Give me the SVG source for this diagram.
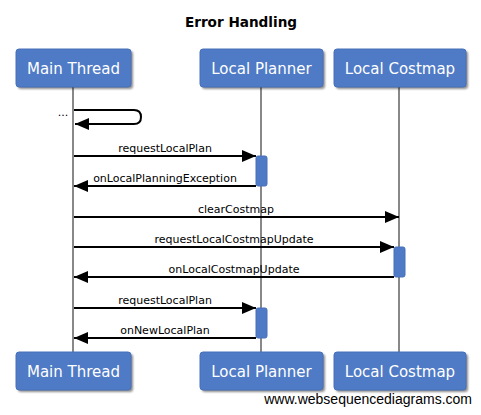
<svg xmlns="http://www.w3.org/2000/svg" width="481" height="415" viewBox="0 0 481 415">
<style>
.box{fill:#4F7AC5;stroke:#4670B8;stroke-width:1}
.shadow{fill:#000;opacity:0.45;filter:url(#blur)}
.plabel{font-family:"DejaVu Sans",Verdana,sans-serif;font-size:15px;fill:#fff;text-anchor:middle}
.life{stroke:#888;stroke-width:2}
.msg{stroke:#000;stroke-width:2;fill:none}
.mlabel{font-family:"DejaVu Sans",Verdana,sans-serif;font-size:11px;fill:#000;text-anchor:middle}
.act{fill:#4F7AC5;stroke:#4670B8;stroke-width:1}
</style>
<defs>
<filter id="blur" x="-20%" y="-20%" width="140%" height="140%"><feGaussianBlur stdDeviation="1.2"/></filter>
<marker id="ah" viewBox="0 0 14 12" refX="14" refY="6" markerWidth="14" markerHeight="12" markerUnits="userSpaceOnUse" orient="auto"><path d="M0,0 L14,6 L0,12 Z" fill="#000"/></marker>
</defs>
<rect width="481" height="415" fill="#fff"/>
<text x="241" y="27" font-family="DejaVu Sans,Verdana,sans-serif" font-size="13.6" font-weight="bold" text-anchor="middle" fill="#000">Error Handling</text>
<g id="lifelines">
<line class="life" x1="73" y1="87" x2="73" y2="352"/>
<line class="life" x1="261" y1="87" x2="261" y2="352"/>
<line class="life" x1="399" y1="87" x2="399" y2="352"/>
</g>
<g id="main-thread">
<rect class="shadow" x="18" y="51" width="115" height="38" rx="3"/>
<rect class="box" x="16" y="49" width="115" height="38" rx="3"/>
<text class="plabel" x="73.5" y="74">Main Thread</text>
<rect class="shadow" x="18" y="354" width="115" height="38" rx="3"/>
<rect class="box" x="16" y="352" width="115" height="38" rx="3"/>
<text class="plabel" x="73.5" y="377">Main Thread</text>
</g>
<g id="local-planner">
<rect class="shadow" x="202" y="51" width="123" height="38" rx="3"/>
<rect class="box" x="200" y="49" width="123" height="38" rx="3"/>
<text class="plabel" x="261.5" y="74">Local Planner</text>
<rect class="shadow" x="202" y="354" width="123" height="38" rx="3"/>
<rect class="box" x="200" y="352" width="123" height="38" rx="3"/>
<text class="plabel" x="261.5" y="377">Local Planner</text>
</g>
<g id="local-costmap">
<rect class="shadow" x="336" y="51" width="132" height="38" rx="3"/>
<rect class="box" x="334" y="49" width="132" height="38" rx="3"/>
<text class="plabel" x="400" y="74">Local Costmap</text>
<rect class="shadow" x="336" y="354" width="132" height="38" rx="3"/>
<rect class="box" x="334" y="352" width="132" height="38" rx="3"/>
<text class="plabel" x="400" y="377">Local Costmap</text>
</g>
<g id="activations">
<rect class="act" x="256" y="156" width="11" height="30" rx="2"/>
<rect class="act" x="394" y="247" width="11" height="30" rx="2"/>
<rect class="act" x="256" y="308" width="11" height="30" rx="2"/>
</g>
<g id="connectors">
<path class="msg" d="M74,110 H134 Q141,110 141,117 Q141,124 134,124 H75" marker-end="url(#ah)"/>
<text class="mlabel" x="63" y="116">...</text>
<line class="msg" x1="74" y1="156" x2="256" y2="156" marker-end="url(#ah)"/>
<text class="mlabel" x="165" y="152">requestLocalPlan</text>
<line class="msg" x1="256" y1="186" x2="74" y2="186" marker-end="url(#ah)"/>
<text class="mlabel" x="165" y="182">onLocalPlanningException</text>
<line class="msg" x1="74" y1="217" x2="399" y2="217" marker-end="url(#ah)"/>
<text class="mlabel" x="236" y="213">clearCostmap</text>
<line class="msg" x1="74" y1="247" x2="394" y2="247" marker-end="url(#ah)"/>
<text class="mlabel" x="234" y="243">requestLocalCostmapUpdate</text>
<line class="msg" x1="394" y1="277" x2="74" y2="277" marker-end="url(#ah)"/>
<text class="mlabel" x="234" y="273">onLocalCostmapUpdate</text>
<line class="msg" x1="74" y1="308" x2="256" y2="308" marker-end="url(#ah)"/>
<text class="mlabel" x="165" y="304">requestLocalPlan</text>
<line class="msg" x1="256" y1="338" x2="74" y2="338" marker-end="url(#ah)"/>
<text class="mlabel" x="165" y="334">onNewLocalPlan</text>
</g>
<text x="472" y="404" font-family="Liberation Sans,Arial,sans-serif" font-size="14" text-anchor="end" fill="#000">www.websequencediagrams.com</text>
</svg>
